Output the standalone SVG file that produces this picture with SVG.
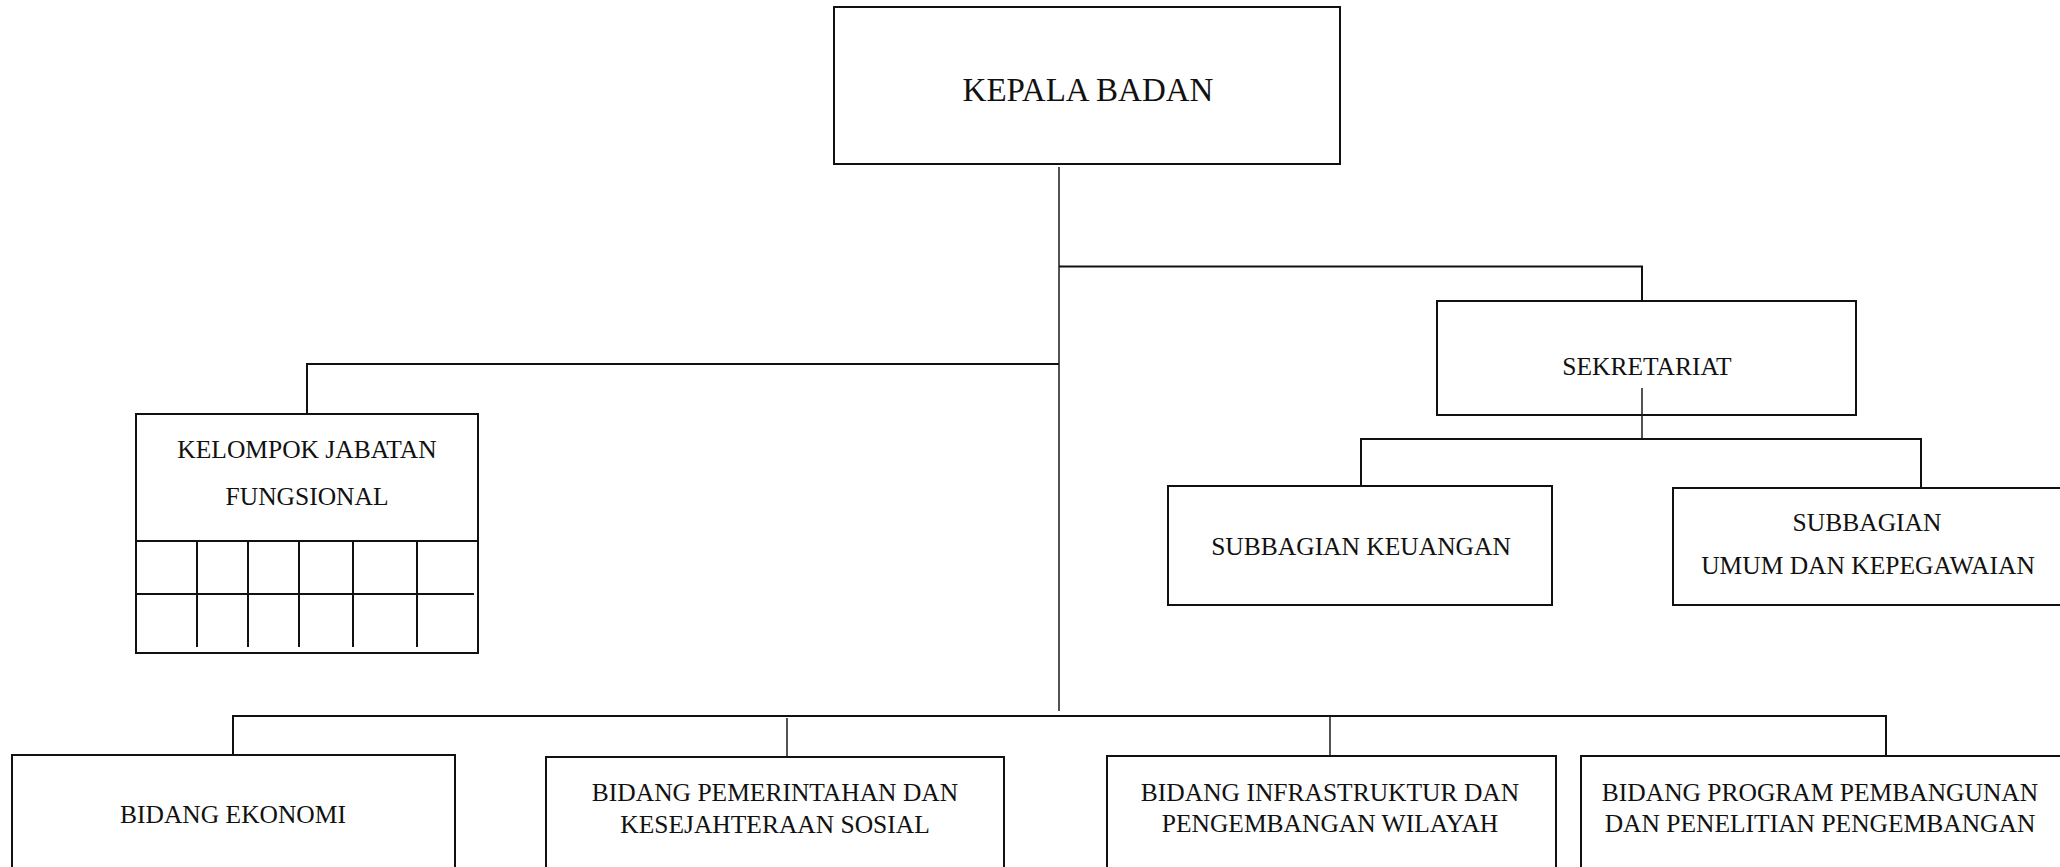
<svg xmlns="http://www.w3.org/2000/svg" width="2060" height="867" viewBox="0 0 2060 867">
<style>
.box{fill:#fff;stroke:#111;stroke-width:2}
.ln{fill:none;stroke:#111;stroke-width:2}
.thin{fill:none;stroke:#1a1a1a;stroke-width:1.5}
.t{font-family:"Liberation Serif","Times New Roman",serif;font-size:25.5px;fill:#111;text-anchor:middle}
.big{font-size:33px}
</style>
<rect width="2060" height="867" fill="#fff"/>
<g id="kepala-badan">
<rect class="box" x="834" y="7" width="506" height="157"/>
<text class="t big" x="1088" y="101">KEPALA BADAN</text>
</g>
<g id="sekretariat">
<rect class="box" x="1437" y="301" width="419" height="114"/>
<text class="t" x="1647" y="375">SEKRETARIAT</text>
</g>
<g id="kelompok-jabatan-fungsional">
<rect class="box" x="136" y="414" width="342" height="239"/>
<text class="t" x="307" y="458">KELOMPOK JABATAN</text>
<text class="t" x="307" y="505">FUNGSIONAL</text>
<path class="ln" d="M136 541H478M136 594H474M197 541V647M248 541V647M299 541V647M353 541V647M417 541V647"/>
</g>
<g id="subbagian-keuangan">
<rect class="box" x="1168" y="486" width="384" height="119"/>
<text class="t" x="1361" y="555">SUBBAGIAN KEUANGAN</text>
</g>
<g id="subbagian-umum">
<rect class="box" x="1673" y="488" width="400" height="117"/>
<text class="t" x="1867" y="531">SUBBAGIAN</text>
<text class="t" x="1868" y="574">UMUM DAN KEPEGAWAIAN</text>
</g>
<g id="bidang-ekonomi">
<rect class="box" x="12" y="755" width="443" height="130"/>
<text class="t" x="233" y="823">BIDANG EKONOMI</text>
</g>
<g id="bidang-pemerintahan">
<rect class="box" x="546" y="757" width="458" height="130"/>
<text class="t" x="775" y="801">BIDANG PEMERINTAHAN DAN</text>
<text class="t" x="775" y="833">KESEJAHTERAAN SOSIAL</text>
</g>
<g id="bidang-infrastruktur">
<rect class="box" x="1107" y="756" width="449" height="130"/>
<text class="t" x="1330" y="801">BIDANG INFRASTRUKTUR DAN</text>
<text class="t" x="1330" y="832">PENGEMBANGAN WILAYAH</text>
</g>
<g id="bidang-program">
<rect class="box" x="1581" y="756" width="490" height="130"/>
<text class="t" x="1820" y="801">BIDANG PROGRAM PEMBANGUNAN</text>
<text class="t" x="1820" y="832">DAN PENELITIAN PENGEMBANGAN</text>
</g>
<g id="connectors">
<path class="thin" d="M1059 167V711"/>
<path class="ln" d="M1059 266.5H1642V301"/>
<path class="ln" d="M1059 364H307V414"/>
<path class="thin" d="M1642 388V439"/>
<path class="ln" d="M1361 486V439H1921V488"/>
<path class="ln" d="M233 755V716H1886V756"/>
<path class="thin" d="M787 718V757"/>
<path class="thin" d="M1330 716V756"/>
</g>
</svg>
